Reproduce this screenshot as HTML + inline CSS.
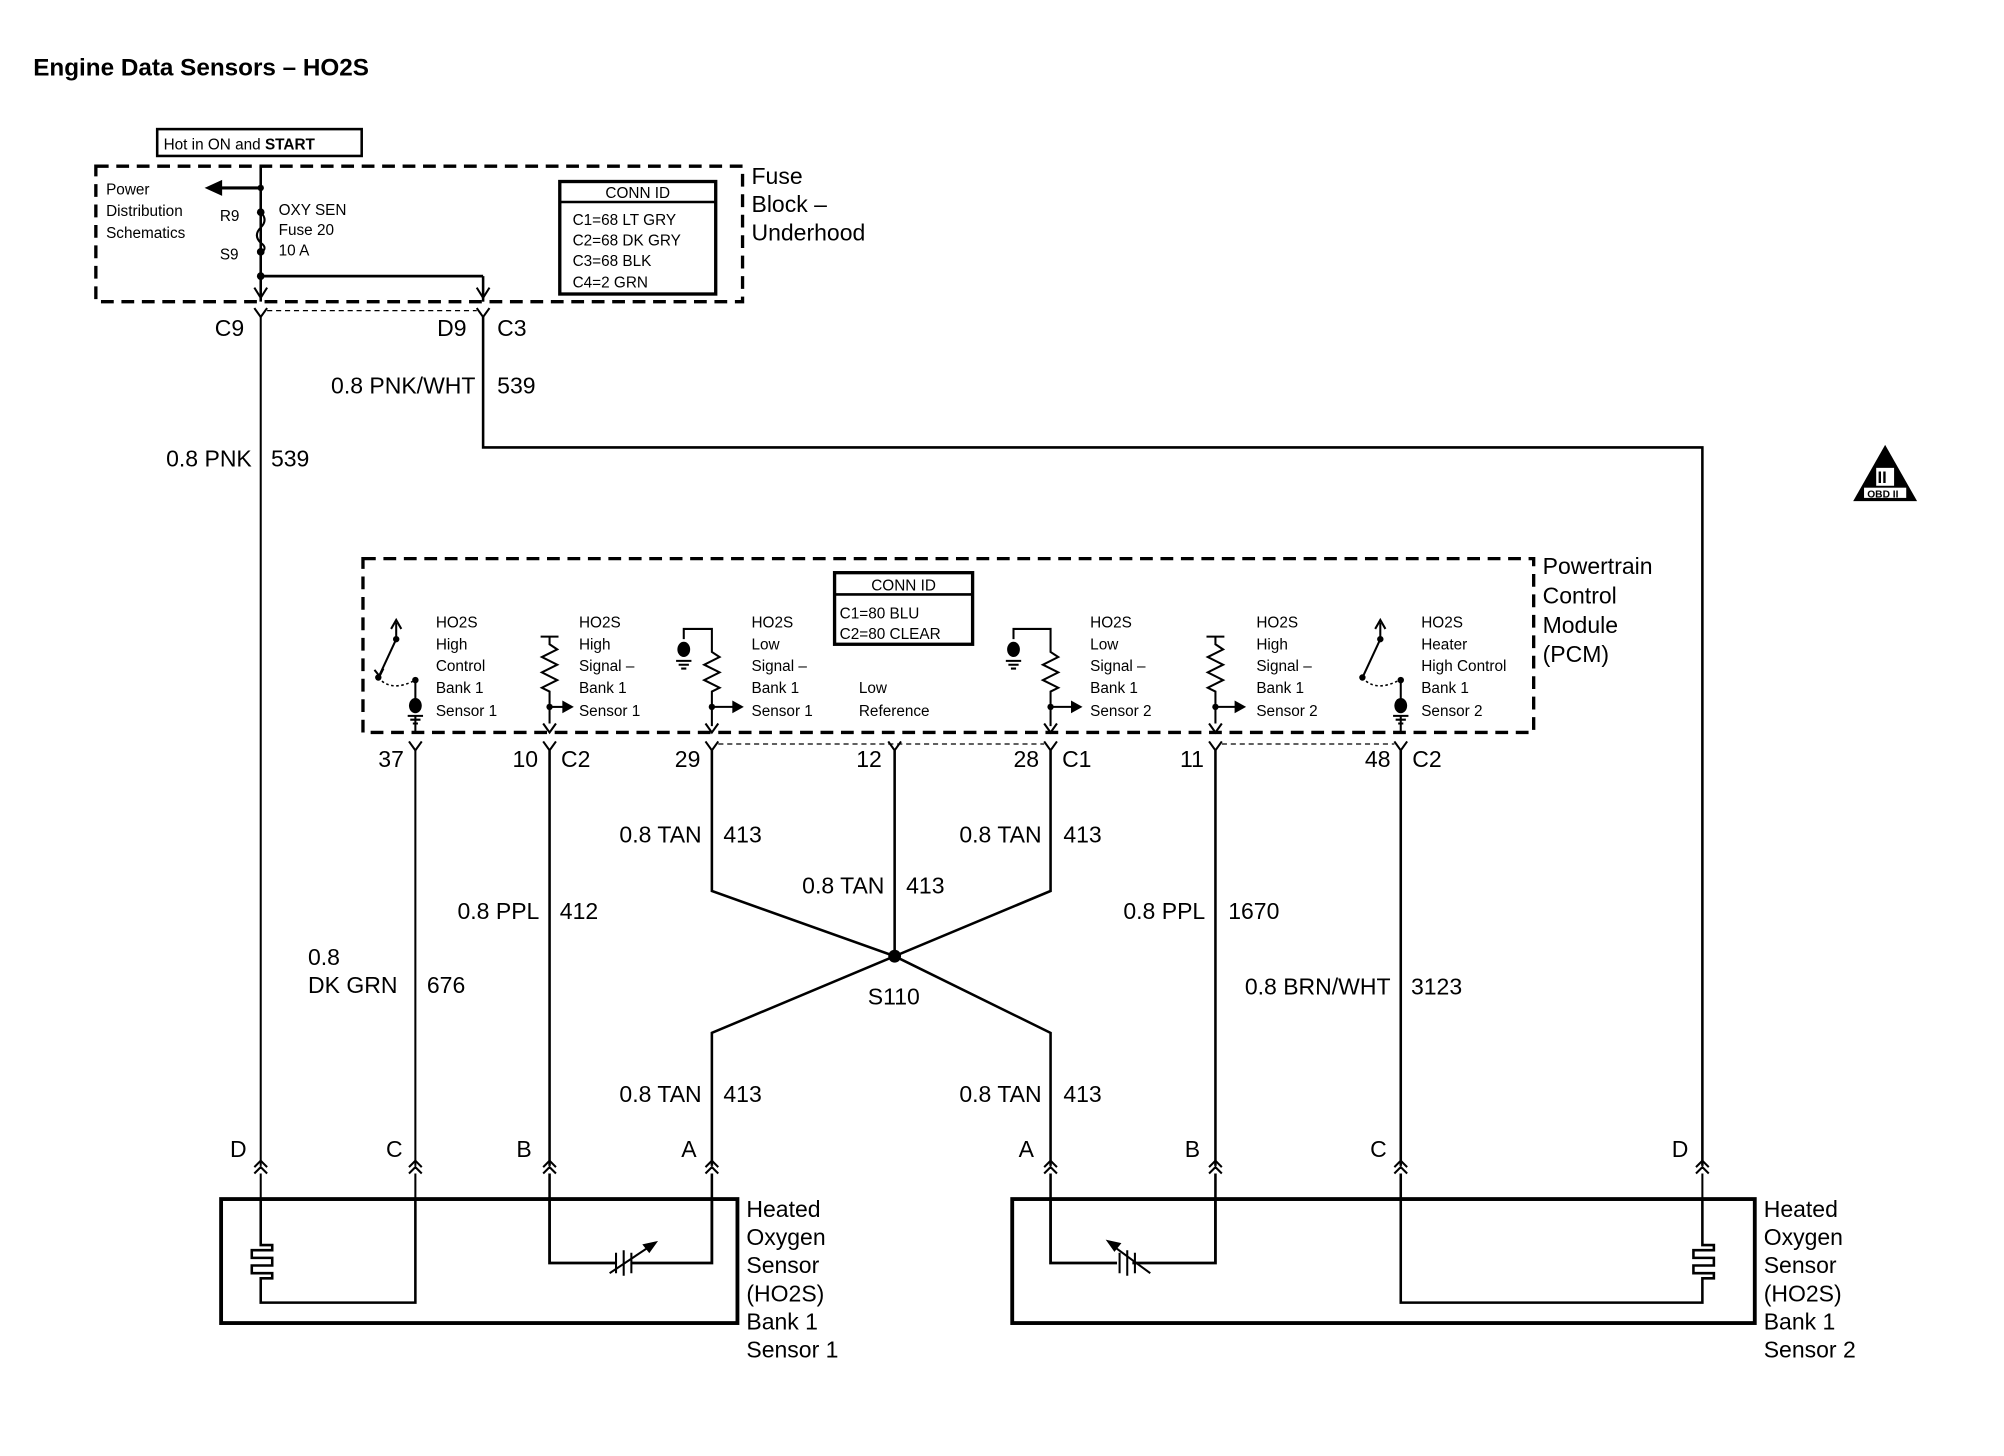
<!DOCTYPE html>
<html><head><meta charset="utf-8"><style>
html,body{margin:0;padding:0;background:#fff}
svg{display:block}
text{font-family:"Liberation Sans",sans-serif;fill:#000}
.s{font-size:12px}
.m{font-size:18px}
.l{font-size:18px}
</style></head><body>
<svg width="2004" height="1456" viewBox="0 0 1568 1139" preserveAspectRatio="none" xmlns="http://www.w3.org/2000/svg">
<rect width="1568" height="1139" fill="#fff"/>
<g stroke="#000" fill="none" stroke-width="1.6">
<rect x="123" y="101" width="160" height="21" stroke-width="2"/>
<rect x="75" y="130" width="506" height="106" stroke-width="2.6" stroke-dasharray="10,6"/>
<line x1="204" y1="130" x2="204" y2="236" stroke-width="2"/>
<line x1="204" y1="147" x2="172" y2="147" stroke-width="2.4"/>
<path d="M162,147 l11,-5 v10 z" fill="#000"/>
<path d="M204,166 q6,6 0,12 q-6,6 0,12 q6,4 0,8" fill="none"/>
<line x1="204" y1="216" x2="378" y2="216" stroke-width="2.2"/>
<line x1="378" y1="216" x2="378" y2="236" stroke-width="2"/>
<path d="M199,225 l5,8 l5,-8 M373,225 l5,8 l5,-8"/>
<rect x="438" y="142" width="122" height="88" stroke-width="2.6"/>
<line x1="438" y1="158" x2="560" y2="158" stroke-width="2"/>
<path d="M199,241 l5,7 l5,-7 M373,241 l5,7 l5,-7"/>
<line x1="209" y1="243" x2="373" y2="243" stroke-dasharray="4,3" stroke-width="1"/>
<line x1="204" y1="248" x2="204" y2="912"/>
<polyline points="378,248 378,350 1332,350 1332,912" stroke-width="2"/>
<rect x="284" y="437" width="916" height="136" stroke-width="2.6" stroke-dasharray="10,6"/>
<rect x="653" y="448" width="108" height="56" stroke-width="2.6"/>
<line x1="653" y1="465" x2="761" y2="465" stroke-width="2"/>
<path d="M320,580 l5,7 l5,-7 M425,580 l5,7 l5,-7 M552,580 l5,7 l5,-7 M695,580 l5,7 l5,-7 M817,580 l5,7 l5,-7 M946,580 l5,7 l5,-7 M1091,580 l5,7 l5,-7"/>
<line x1="562" y1="582" x2="817" y2="582" stroke-dasharray="4,3" stroke-width="1"/>
<line x1="956" y1="582" x2="1091" y2="582" stroke-dasharray="4,3" stroke-width="1"/>
<line x1="325" y1="587" x2="325" y2="912"/>
<line x1="430" y1="587" x2="430" y2="912" stroke-width="2"/>
<polyline points="557,587 557,697 700,748 822,697 822,587" stroke-width="2"/>
<line x1="700" y1="587" x2="700" y2="748" stroke-width="2"/>
<polyline points="557,912 557,808 700,748 822,808 822,912" stroke-width="2"/>
<line x1="951" y1="587" x2="951" y2="912" stroke-width="2"/>
<line x1="1096" y1="587" x2="1096" y2="912" stroke-width="2"/>
<line x1="310" y1="487" x2="310" y2="500"/><path d="M306,492 l4,-7 l4,7"/>
<line x1="310" y1="500" x2="297" y2="528"/><path d="M293,524 l4,5 l3,-6" />
<path d="M296,530 q10,12 29,2" stroke-dasharray="2,2" stroke-width="1.2"/>
<line x1="325" y1="531" x2="325" y2="550"/>
<line x1="325" y1="560" x2="325" y2="573"/>
<line x1="1080" y1="487" x2="1080" y2="500"/><path d="M1076,492 l4,-7 l4,7"/>
<line x1="1080" y1="500" x2="1067" y2="528"/>
<path d="M1066,530 q10,12 29,2" stroke-dasharray="2,2" stroke-width="1.2"/>
<line x1="1096" y1="531" x2="1096" y2="550"/>
<line x1="1096" y1="560" x2="1096" y2="573"/>
<path d="M423,498 h14 M430,498 v6 l6,4 l-12,6 l12,6 l-12,6 l12,6 l-12,6 l6,3 v25" stroke-width="1.6"/>
<path d="M944,498 h14 M951,498 v6 l6,4 l-12,6 l12,6 l-12,6 l12,6 l-12,6 l6,3 v25"/>
<path d="M535,500 v-8 h22 v18 l6,4 l-12,6 l12,6 l-12,6 l12,6 l-6,3 v27"/>
<path d="M793,500 v-8 h29 v18 l6,4 l-12,6 l12,6 l-12,6 l12,6 l-6,3 v27"/>
<path d="M425,566 l5,7 l5,-7 M552,566 l5,7 l5,-7 M817,566 l5,7 l5,-7 M946,566 l5,7 l5,-7"/>
<line x1="430" y1="553" x2="442" y2="553"/><line x1="557" y1="553" x2="575" y2="553"/>
<line x1="822" y1="553" x2="840" y2="553"/><line x1="951" y1="553" x2="968" y2="553"/>
<path d="M319,560 h12 M321,563 h8 M323,566 h4"/>
<path d="M1090,560 h12 M1092,563 h8 M1094,566 h4"/>
<path d="M529,517 h12 M531,520 h8 M533,523 h4"/>
<path d="M787,517 h12 M789,520 h8 M791,523 h4"/>
<path d="M199,913 l5,-5 l5,5 M199,918 l5,-5 l5,5 M320,913 l5,-5 l5,5 M320,918 l5,-5 l5,5 M425,913 l5,-5 l5,5 M425,918 l5,-5 l5,5 M552,913 l5,-5 l5,5 M552,918 l5,-5 l5,5"/>
<path d="M817,913 l5,-5 l5,5 M817,918 l5,-5 l5,5 M946,913 l5,-5 l5,5 M946,918 l5,-5 l5,5 M1091,913 l5,-5 l5,5 M1091,918 l5,-5 l5,5 M1327,913 l5,-5 l5,5 M1327,918 l5,-5 l5,5"/>
<line x1="204" y1="918" x2="204" y2="938"/><line x1="325" y1="918" x2="325" y2="938"/>
<line x1="430" y1="918" x2="430" y2="938" stroke-width="2"/><line x1="557" y1="918" x2="557" y2="938" stroke-width="2"/>
<line x1="822" y1="918" x2="822" y2="938" stroke-width="2"/><line x1="951" y1="918" x2="951" y2="938" stroke-width="2"/>
<line x1="1096" y1="918" x2="1096" y2="938" stroke-width="2"/><line x1="1332" y1="918" x2="1332" y2="938"/>
<rect x="173" y="938" width="404" height="97" stroke-width="3"/>
<path d="M204,938 v36 h9 v4 h-16 v6 h16 v6 h-16 v6 h16 v4 h-9 v19 h121 v-81" stroke-width="2"/>
<path d="M430,938 v50 h52 M494,988 h63 v-50" stroke-width="2.2"/>
<path d="M482,980 v16 M488,978 v20 M494,980 v16" stroke-width="1.6"/>
<path d="M477,996 l33,-22" stroke-width="1.6"/><path d="M513,972 l-9,2 l4,5 z" fill="#000"/>
<rect x="792" y="938" width="581" height="97" stroke-width="3"/>
<path d="M1332,938 v36 h9 v4 h-16 v6 h16 v6 h-16 v6 h16 v4 h-9 v19 h-236 v-81" stroke-width="2"/>
<path d="M822,938 v50 h52 M886,988 h65 v-50" stroke-width="2.2"/>
<path d="M876,980 v16 M882,978 v20 M888,980 v16" stroke-width="1.6"/>
<path d="M900,996 l-30,-22" stroke-width="1.6"/><path d="M867,971 l9,2 l-4,5 z" fill="#000"/>
<path d="M1475,348 l25,44 h-50 z" fill="#000" stroke="none"/>
</g>
<g fill="#000">
<circle cx="204" cy="147" r="2.5"/><circle cx="204" cy="166" r="3"/><circle cx="204" cy="197" r="3"/><circle cx="204" cy="216" r="3"/>
<circle cx="700" cy="748" r="5"/>
<circle cx="310" cy="500" r="2.5"/><circle cx="296" cy="530" r="2.5"/><circle cx="325" cy="532" r="2.5"/>
<circle cx="1080" cy="500" r="2.5"/><circle cx="1066" cy="530" r="2.5"/><circle cx="1096" cy="532" r="2.5"/>
<ellipse cx="325" cy="552" rx="5" ry="6"/><ellipse cx="1096" cy="552" rx="5" ry="6"/>
<ellipse cx="535" cy="508" rx="5" ry="6"/><ellipse cx="793" cy="508" rx="5" ry="6"/>
<circle cx="430" cy="553" r="2.5"/><circle cx="557" cy="553" r="2.5"/><circle cx="822" cy="553" r="2.5"/><circle cx="951" cy="553" r="2.5"/>
<path d="M440,548 l9,5 l-9,5 z M573,548 l9,5 l-9,5 z M838,548 l9,5 l-9,5 z M966,548 l9,5 l-9,5 z"/>
</g>
<rect x="1468" y="366" width="14" height="14" fill="#fff"/>
<rect x="1458" y="381" width="34" height="9" fill="#fff" stroke="#000" stroke-width="1"/>
<text x="1469" y="378" style="font-size:13px;font-weight:bold">II</text>
<text x="1461" y="389" style="font-size:8px;font-weight:bold">OBD II</text>

<text x="26" y="59" style="font-size:19px;font-weight:bold">Engine Data Sensors – HO2S</text>
<text x="128" y="117" class="s">Hot in ON and <tspan font-weight="bold">START</tspan></text>
<text class="s"><tspan x="83" y="152">Power</tspan><tspan x="83" y="169">Distribution</tspan><tspan x="83" y="186">Schematics</tspan></text>
<text x="172" y="173" class="s">R9</text><text x="172" y="203" class="s">S9</text>
<text class="s"><tspan x="218" y="168">OXY SEN</tspan><tspan x="218" y="184">Fuse 20</tspan><tspan x="218" y="200">10 A</tspan></text>
<text x="499" y="155" class="s" text-anchor="middle">CONN ID</text>
<text class="s"><tspan x="448" y="176">C1=68 LT GRY</tspan><tspan x="448" y="192">C2=68 DK GRY</tspan><tspan x="448" y="208">C3=68 BLK</tspan><tspan x="448" y="225">C4=2 GRN</tspan></text>
<text class="l"><tspan x="588" y="144">Fuse</tspan><tspan x="588" y="166">Block –</tspan><tspan x="588" y="188">Underhood</tspan></text>
<text x="168" y="263" class="m">C9</text><text x="342" y="263" class="m">D9</text><text x="389" y="263" class="m">C3</text>
<text x="372" y="308" class="m" text-anchor="end">0.8 PNK/WHT</text><text x="389" y="308" class="m">539</text>
<text x="197" y="365" class="m" text-anchor="end">0.8 PNK</text><text x="212" y="365" class="m">539</text>
<text class="l"><tspan x="1207" y="449">Powertrain</tspan><tspan x="1207" y="472">Control</tspan><tspan x="1207" y="495">Module</tspan><tspan x="1207" y="518">(PCM)</tspan></text>
<text x="707" y="462" class="s" text-anchor="middle">CONN ID</text>
<text class="s"><tspan x="657" y="484">C1=80 BLU</tspan><tspan x="657" y="500">C2=80 CLEAR</tspan></text>
<text class="s"><tspan x="341" y="491">HO2S</tspan><tspan x="341" y="508">High</tspan><tspan x="341" y="525">Control</tspan><tspan x="341" y="542">Bank 1</tspan><tspan x="341" y="560">Sensor 1</tspan></text>
<text class="s"><tspan x="453" y="491">HO2S</tspan><tspan x="453" y="508">High</tspan><tspan x="453" y="525">Signal –</tspan><tspan x="453" y="542">Bank 1</tspan><tspan x="453" y="560">Sensor 1</tspan></text>
<text class="s"><tspan x="588" y="491">HO2S</tspan><tspan x="588" y="508">Low</tspan><tspan x="588" y="525">Signal –</tspan><tspan x="588" y="542">Bank 1</tspan><tspan x="588" y="560">Sensor 1</tspan></text>
<text class="s"><tspan x="672" y="542">Low</tspan><tspan x="672" y="560">Reference</tspan></text>
<text class="s"><tspan x="853" y="491">HO2S</tspan><tspan x="853" y="508">Low</tspan><tspan x="853" y="525">Signal –</tspan><tspan x="853" y="542">Bank 1</tspan><tspan x="853" y="560">Sensor 2</tspan></text>
<text class="s"><tspan x="983" y="491">HO2S</tspan><tspan x="983" y="508">High</tspan><tspan x="983" y="525">Signal –</tspan><tspan x="983" y="542">Bank 1</tspan><tspan x="983" y="560">Sensor 2</tspan></text>
<text class="s"><tspan x="1112" y="491">HO2S</tspan><tspan x="1112" y="508">Heater</tspan><tspan x="1112" y="525">High Control</tspan><tspan x="1112" y="542">Bank 1</tspan><tspan x="1112" y="560">Sensor 2</tspan></text>
<g class="m">
<text x="316" y="600" text-anchor="end">37</text>
<text x="421" y="600" text-anchor="end">10</text><text x="439" y="600">C2</text>
<text x="548" y="600" text-anchor="end">29</text>
<text x="690" y="600" text-anchor="end">12</text>
<text x="813" y="600" text-anchor="end">28</text><text x="831" y="600">C1</text>
<text x="942" y="600" text-anchor="end">11</text>
<text x="1088" y="600" text-anchor="end">48</text><text x="1105" y="600">C2</text>
<text x="549" y="659" text-anchor="end">0.8 TAN</text><text x="566" y="659">413</text>
<text x="815" y="659" text-anchor="end">0.8 TAN</text><text x="832" y="659">413</text>
<text x="692" y="699" text-anchor="end">0.8 TAN</text><text x="709" y="699">413</text>
<text x="422" y="719" text-anchor="end">0.8 PPL</text><text x="438" y="719">412</text>
<text x="241" y="755">0.8</text><text x="241" y="777">DK GRN</text><text x="334" y="777">676</text>
<text x="943" y="719" text-anchor="end">0.8 PPL</text><text x="961" y="719">1670</text>
<text x="1088" y="778" text-anchor="end">0.8 BRN/WHT</text><text x="1104" y="778">3123</text>
<text x="679" y="786">S110</text>
<text x="549" y="862" text-anchor="end">0.8 TAN</text><text x="566" y="862">413</text>
<text x="815" y="862" text-anchor="end">0.8 TAN</text><text x="832" y="862">413</text>
<text x="180" y="905">D</text><text x="302" y="905">C</text><text x="404" y="905">B</text><text x="533" y="905">A</text>
<text x="797" y="905">A</text><text x="927" y="905">B</text><text x="1072" y="905">C</text><text x="1308" y="905">D</text>
</g>
<text class="l"><tspan x="584" y="952">Heated</tspan><tspan x="584" y="974">Oxygen</tspan><tspan x="584" y="996">Sensor</tspan><tspan x="584" y="1018">(HO2S)</tspan><tspan x="584" y="1040">Bank 1</tspan><tspan x="584" y="1062">Sensor 1</tspan></text>
<text class="l"><tspan x="1380" y="952">Heated</tspan><tspan x="1380" y="974">Oxygen</tspan><tspan x="1380" y="996">Sensor</tspan><tspan x="1380" y="1018">(HO2S)</tspan><tspan x="1380" y="1040">Bank 1</tspan><tspan x="1380" y="1062">Sensor 2</tspan></text>
</svg>
</body></html>
